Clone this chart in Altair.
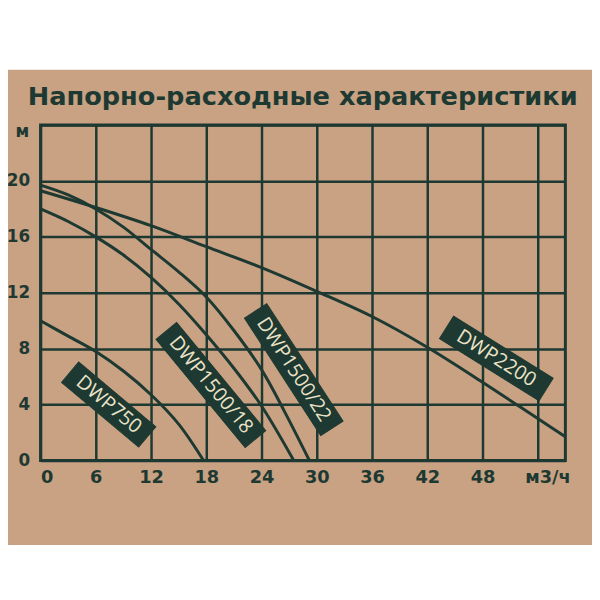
import altair as alt
import pandas as pd

# ---- data (flow m3/h, head m) ----
q_750 = [0, 3, 6, 9, 12, 15, 17.7]
h_750 = [10.0, 8.9, 7.8, 6.4, 4.7, 2.6, 0.0]

q_1500_18 = [0, 3, 6, 9, 12, 15, 18, 21, 24, 27.5]
h_1500_18 = [18.0, 17.1, 16.0, 14.7, 13.1, 11.2, 9.0, 6.6, 3.9, 0.0]

q_1500_22 = [0, 3, 6, 9, 12, 15, 18, 21, 24, 26.5, 29.2]
h_1500_22 = [19.7, 19.0, 18.0, 16.7, 15.1, 13.5, 11.7, 9.3, 6.5, 3.5, 0.0]

q_2200 = [0, 6, 12, 18, 24, 30, 36, 42, 48, 54, 57]
h_2200 = [19.3, 18.1, 16.8, 15.3, 13.8, 12.1, 10.3, 8.1, 5.6, 3.0, 1.7]

models = ["DWP750", "DWP1500/18", "DWP1500/22", "DWP2200"]
label_q = [7.4, 18.5, 27.5, 49.5]
label_h = [4.0, 5.4, 6.5, 7.3]

x_ticks = [0, 6, 12, 18, 24, 30, 36, 42, 48, 54]
y_ticks = [0, 4, 8, 12, 16, 20, 24]

TITLE = "Напорно-расходные характеристики"
X_UNIT = "м3/ч"
Y_UNIT = "м"

# ---- styles ----
BG = "#c8a283"
INK = "#1d3932"
CREAM = "#ece2c6"
W, H = 532, 340
box_style = {  # angle (deg, clockwise), box length px
    "DWP750": (40, 102),
    "DWP1500/18": (50.5, 142),
    "DWP1500/22": (57, 142),
    "DWP2200": (32, 119),
}
BOX_H = 27

rows = []
for name, qs, hs in [("DWP750", q_750, h_750), ("DWP1500/18", q_1500_18, h_1500_18),
                     ("DWP1500/22", q_1500_22, h_1500_22), ("DWP2200", q_2200, h_2200)]:
    for q, h in zip(qs, hs):
        rows.append({"model": name, "q": q, "h": h})
curves = pd.DataFrame(rows)
labels = pd.DataFrame({"model": models, "q": label_q, "h": label_h})

xscale = alt.Scale(domain=[0, 57], nice=False, zero=False)
yscale = alt.Scale(domain=[0, 24], nice=False, zero=False)

xaxis = alt.Axis(values=x_ticks, labelExpr="datum.value > 50 ? '' : datum.label",
                 grid=True, gridColor=INK, gridWidth=2.5, gridOpacity=1,
                 ticks=False, domain=False, labelFont="DejaVu Sans", labelFontWeight="bold",
                 labelFontSize=18, labelColor=INK, labelPadding=8,
                 title=X_UNIT, titleFont="DejaVu Sans", titleFontWeight="bold", titleFontSize=18,
                 titleColor=INK, titleX=537, titleY=17, titleAlign="right", titleBaseline="middle")
yaxis = alt.Axis(values=y_ticks, labelExpr="datum.value > 22 ? '' : datum.label",
                 grid=True, gridColor=INK, gridWidth=2.5, gridOpacity=1,
                 ticks=False, domain=False, labelFont="DejaVu Sans", labelFontWeight="bold",
                 labelFontSize=17, labelColor=INK, labelPadding=11,
                 title=Y_UNIT, titleFont="DejaVu Sans", titleFontWeight="bold", titleFontSize=17,
                 titleColor=INK, titleAngle=0, titleX=-12, titleY=7, titleAlign="right",
                 titleBaseline="middle")

# white strip above the cardboard
top_strip = alt.Chart(pd.DataFrame({"k": [0]})).mark_rect(color="white").encode(
    x=alt.value(-40), x2=alt.value(W + 60), y=alt.value(-130), y2=alt.value(-56))

title = alt.Chart(pd.DataFrame({"t": [TITLE]})).mark_text(
    font="DejaVu Sans", fontWeight="bold", fontSize=26, color=INK,
    align="left", baseline="middle").encode(
    x=alt.value(-13), y=alt.value(-28), text="t:N")

lines = alt.Chart(curves).mark_line(color=INK, strokeWidth=3, interpolate="catmull-rom",
                                    strokeCap="butt").encode(
    x=alt.X("q:Q", scale=xscale, axis=xaxis),
    y=alt.Y("h:Q", scale=yscale, axis=yaxis),
    detail="model:N",
)

layers = [top_strip, title, lines]
for name in models:
    ang, L = box_style[name]
    hh = BOX_H / L
    path = f"M-1,-{hh:.4f}L1,-{hh:.4f}L1,{hh:.4f}L-1,{hh:.4f}Z"
    sub = alt.Chart(labels).transform_filter(alt.datum.model == name)
    box = sub.mark_point(shape=path, filled=True, fill=INK, stroke=INK, strokeWidth=1,
                         opacity=1, size=L * L, angle=ang).encode(
        x=alt.X("q:Q", scale=xscale), y=alt.Y("h:Q", scale=yscale))
    txt = sub.mark_text(font="Open Sans", fontSize=20, color=CREAM, angle=ang,
                        align="center", baseline="middle").encode(
        x=alt.X("q:Q", scale=xscale), y=alt.Y("h:Q", scale=yscale), text="model:N")
    layers += [box, txt]

chart = alt.layer(*layers).properties(
    width=W, height=H,
    autosize=alt.AutoSizeParams(type="none"),
    padding={"left": 33, "top": 115, "right": 27, "bottom": 82},
).configure(background=BG).configure_view(stroke=INK, strokeWidth=3)

chart.save("out.html", embed_options={"renderer": "svg", "actions": False})
